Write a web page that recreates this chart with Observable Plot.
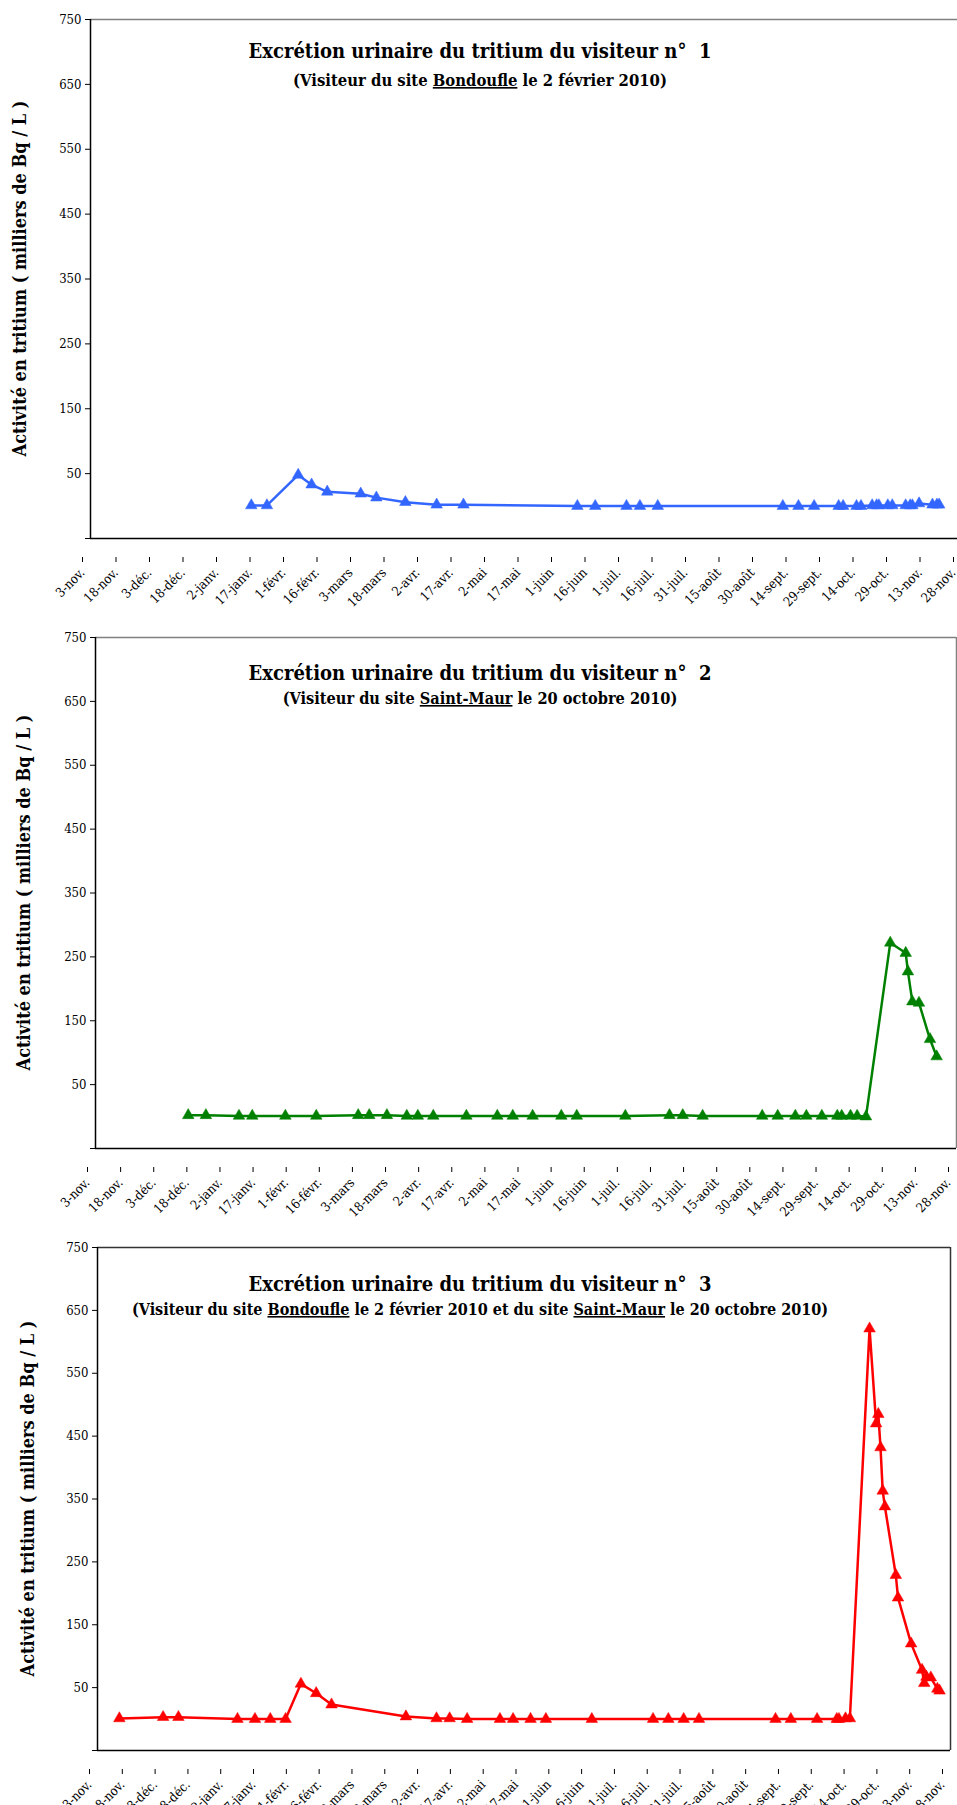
<!DOCTYPE html>
<html><head><meta charset="utf-8">
<script src="https://cdn.jsdelivr.net/npm/d3@7"></script>
<script src="https://cdn.jsdelivr.net/npm/@observablehq/plot@0.6"></script>
<style>
html,body{margin:0;padding:0;background:#fff;overflow:hidden}
#wrap{position:relative;width:957px;height:1805px;overflow:hidden;background:#fff}
#wrap svg{position:absolute;left:0;max-width:none}
</style></head><body><div id="wrap"></div>
<script>
const FONT = '"DejaVu Serif Condensed","DejaVu Serif",serif';

const xTickDates = ["2009-11-03","2009-11-18","2009-12-03","2009-12-18","2010-01-02","2010-01-17","2010-02-01","2010-02-16","2010-03-03","2010-03-18","2010-04-02","2010-04-17","2010-05-02","2010-05-17","2010-06-01","2010-06-16","2010-07-01","2010-07-16","2010-07-31","2010-08-15","2010-08-30","2010-09-14","2010-09-29","2010-10-14","2010-10-29","2010-11-13","2010-11-28"];
const xTickLabels = ["3-nov.","18-nov.","3-déc.","18-déc.","2-janv.","17-janv.","1-févr.","16-févr.","3-mars","18-mars","2-avr.","17-avr.","2-mai","17-mai","1-juin","16-juin","1-juil.","16-juil.","31-juil.","15-août","30-août","14-sept.","29-sept.","14-oct.","29-oct.","13-nov.","28-nov."];
const yTicks = [-50,50,150,250,350,450,550,650,750];
const yTickLabels = ["","50","150","250","350","450","550","650","750"];
const yTitle = "Activité en tritium ( milliers de Bq / L )";

// Visiteur 1
const v1Dates = ["2010-01-14","2010-01-21","2010-02-04","2010-02-10","2010-02-17","2010-03-04","2010-03-11","2010-03-24","2010-04-07","2010-04-19","2010-06-09","2010-06-17","2010-07-01","2010-07-07","2010-07-15","2010-09-09","2010-09-16","2010-09-23","2010-10-04","2010-10-06","2010-10-12","2010-10-14","2010-10-19","2010-10-21","2010-10-22","2010-10-26","2010-10-28","2010-11-03","2010-11-05","2010-11-06","2010-11-09","2010-11-15","2010-11-17","2010-11-18"];
const v1Values = [1,1,48,33,22,19,13,6,2,2,0,0,0,0,0,0,0,0,0,0,0,0,1,1,1,1,1,1,1,1,4,2,2,2];

// Visiteur 2
const v2Dates = ["2009-12-15","2009-12-23","2010-01-07","2010-01-13","2010-01-28","2010-02-11","2010-03-02","2010-03-07","2010-03-15","2010-03-24","2010-03-29","2010-04-05","2010-04-20","2010-05-04","2010-05-11","2010-05-20","2010-06-02","2010-06-09","2010-07-01","2010-07-21","2010-07-27","2010-08-05","2010-09-01","2010-09-08","2010-09-16","2010-09-21","2010-09-28","2010-10-05","2010-10-07","2010-10-11","2010-10-14","2010-10-18","2010-10-29","2010-11-05","2010-11-06","2010-11-08","2010-11-11","2010-11-16","2010-11-19"];
const v2Values = [2,2,1,1,1,1,2,2,2,1,1,1,1, 1,1,1,1,1,1,2,2,1, 1,1,1,1,1, 1,1,1,1,0, 272,256,227,180,178,121,94];

// Visiteur 3
const v3Dates = ["2009-11-13","2009-12-03","2009-12-10","2010-01-06","2010-01-14","2010-01-21","2010-01-28","2010-02-04","2010-02-11","2010-02-18","2010-03-24","2010-04-07","2010-04-13","2010-04-21","2010-05-06","2010-05-12","2010-05-20","2010-05-27","2010-06-17","2010-07-15","2010-07-22","2010-07-29","2010-08-05","2010-09-09","2010-09-16","2010-09-28","2010-10-07","2010-10-08","2010-10-11","2010-10-13","2010-10-22","2010-10-25","2010-10-26","2010-10-27","2010-10-28","2010-10-29","2010-11-03","2010-11-04","2010-11-10","2010-11-15","2010-11-16","2010-11-17","2010-11-19","2010-11-22","2010-11-23"];
const v3Values = [1,3,3,0,0,0,0,56,41,23,4,1,1,0, 0,0,0,0,0,0,0,0,0,0,0,0,0,0,1,1, 621,470,485,432,363,338,229,193,120,78,57,67,66,48,45];

const panels = [
  {left:90, right:961, top:19, bottom:538, color:"#3366FF", frame:"#808080", dates:v1Dates, values:v1Values,
   title:"Excrétion urinaire du tritium du visiteur n°  1", tY:58,
   sub:[["(Visiteur du site ",false],["Bondoufle",true],[" le 2 février 2010)",false]], sY:86, sFs:16.5, yTX:26},
  {left:95, right:956, top:637, bottom:1148, color:"#008000", frame:"#808080", dates:v2Dates, values:v2Values,
   title:"Excrétion urinaire du tritium du visiteur n°  2", tY:680,
   sub:[["(Visiteur du site ",false],["Saint-Maur",true],[" le 20 octobre 2010)",false]], sY:704, sFs:16.2, yTX:30},
  {left:97, right:950, top:1247, bottom:1750, color:"#FF0000", frame:"#333333", dates:v3Dates, values:v3Values,
   title:"Excrétion urinaire du tritium du visiteur n°  3", tY:1291,
   sub:[["(Visiteur du site ",false],["Bondoufle",true],[" le 2 février 2010 et du site ",false],["Saint-Maur",true],[" le 20 octobre 2010)",false]], sY:1315, sFs:16, yTX:34}
];

const wrap = document.getElementById("wrap");
const ticks = xTickDates.map(d => new Date(d));
const labelOf = new Map(ticks.map((t,i) => [+t, xTickLabels[i]]));
const yLabelOf = new Map(yTicks.map((t,i) => [t, yTickLabels[i]]));
const x0 = ticks[0], x1 = ticks[ticks.length-1];

for (const p of panels) {
  const mt = 15, mb = 80, mr = 10;
  const data = p.dates.map((d,i) => ({date: new Date(d), value: p.values[i]}));
  const svg = Plot.plot({
    width: p.right + mr, height: p.bottom - p.top + mt + mb,
    marginLeft: p.left, marginRight: mr, marginTop: mt, marginBottom: mb,
    style: {fontFamily: FONT, fontSize: "13px", color: "#000", background: "#fff", overflow: "visible"},
    x: {type: "utc", domain: [x0, x1]},
    y: {domain: [-50, 750]},
    marks: [
      Plot.ruleY([750], {stroke: p.frame, strokeWidth: 1.5}),
      Plot.ruleX([x1], {stroke: p.frame, strokeWidth: 1.5}),
      Plot.axisY({ticks: yTicks, tickFormat: d => yLabelOf.get(d), tickSize: 5, tickPadding: 4, label: null}),
      Plot.axisX({ticks, tickFormat: d => labelOf.get(+d), tickRotate: -45, tickSize: 5, tickPadding: 8, dx: -8, dy: 19, label: null}),
      Plot.ruleX([x0], {stroke: "#000", strokeWidth: 1.5}),
      Plot.ruleY([-50], {stroke: "#000", strokeWidth: 1.5}),
      Plot.line(data, {x: "date", y: "value", stroke: p.color, strokeWidth: 2.5}),
      Plot.dot(data, {x: "date", y: "value", symbol: "triangle", r: 4.3, fill: p.color, stroke: p.color, strokeWidth: 0.5})
    ]
  });
  const top = p.top - mt;
  svg.style.top = top + "px";
  svg.style.maxWidth = "none";
  wrap.appendChild(svg);
  const s = d3.select(svg);
  s.append("text").attr("x", 480).attr("y", p.tY - top).attr("text-anchor", "middle")
    .attr("font-family", FONT).attr("font-weight", "bold").attr("font-size", 20).attr("fill", "#000")
    .text(p.title);
  const st = s.append("text").attr("x", 480).attr("y", p.sY - top).attr("text-anchor", "middle")
    .attr("font-family", FONT).attr("font-weight", "bold").attr("font-size", p.sFs).attr("fill", "#000");
  for (const [txt, u] of p.sub) {
    const ts = st.append("tspan").text(txt);
    if (u) ts.attr("text-decoration", "underline").style("text-decoration", "underline");
  }
  const cy = (p.top + p.bottom) / 2 - top;
  s.append("text").attr("transform", `translate(${p.yTX},${cy}) rotate(-90)`).attr("text-anchor", "middle")
    .attr("font-family", FONT).attr("font-weight", "bold").attr("font-size", 18).attr("fill", "#000")
    .text(yTitle);
}
</script></body></html>
